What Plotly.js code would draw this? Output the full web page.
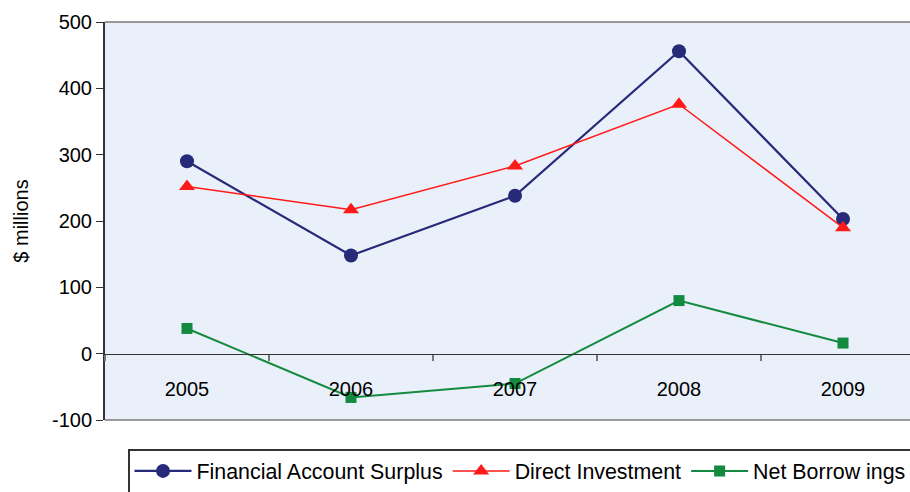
<!DOCTYPE html>
<html>
<head>
<meta charset="utf-8">
<script src="https://cdn.plot.ly/plotly-3.0.1.min.js"></script>
<style>
html,body{margin:0;padding:0;overflow:hidden;background:#fff;width:910px;height:492px;}
#chart{width:930px;height:492px;}
</style>
</head>
<body>
<div id="chart"></div>
<script>
const years = ['2005','2006','2007','2008','2009'];
const financialAccountSurplus = [290, 148, 238, 456, 203];
const directInvestment = [252, 217, 283, 376, 190];
const netBorrowings = [38, -66, -45, 80, 16];
const yTicks = [-100, 0, 100, 200, 300, 400, 500];
const yTickLabels = ['-100', '0', '100', '200', '300', '400', '500'];

const W = 930, H = 492;
const font = {family: 'Liberation Sans, Arial, sans-serif', size: 20, color: '#000'};
const legendFont = {family: 'Liberation Sans, Arial, sans-serif', size: 21.4, color: '#000'};

const traces = [
  {x: years, y: financialAccountSurplus, name: 'Financial Account Surplus', type: 'scatter', mode: 'lines+markers',
   line: {color: '#262A78', width: 2.2}, marker: {symbol: 'circle', size: 14, color: '#262A78'}},
  {x: years, y: directInvestment, name: 'Direct Investment', type: 'scatter', mode: 'lines+markers',
   line: {color: '#FF1A1A', width: 1.5}, marker: {symbol: 'triangle-up', size: 14, color: '#FF1A1A'}},
  {x: years, y: netBorrowings, name: 'Net Borrow ings', type: 'scatter', mode: 'lines+markers',
   line: {color: '#138A3F', width: 2}, marker: {symbol: 'square', size: 11, color: '#138A3F'}}
];

const layout = {
  width: W, height: H,
  margin: {l: 105, r: 5, t: 22, b: 72},
  paper_bgcolor: '#fff',
  plot_bgcolor: '#EAF0F9',
  font: font,
  showlegend: true,
  legend: {orientation: 'h', xref: 'container', yref: 'container', x: 128 / W, y: 1 - 449 / H,
           xanchor: 'left', yanchor: 'top', bordercolor: '#333', borderwidth: 1.5, bgcolor: '#fff',
           font: legendFont, tracegroupgap: 0, itemwidth: 57},
  xaxis: {type: 'category', range: [-0.5, 4.5], anchor: 'free', position: 100 / 600,
          showline: true, linecolor: '#333', linewidth: 1.2, ticks: 'outside', tickson: 'boundaries',
          ticklen: 6, tickcolor: '#777', tickwidth: 1.5, showgrid: false, zeroline: false,
          ticklabelstandoff: 17, tickfont: font, fixedrange: true},
  yaxis: {range: [-100, 500], tickmode: 'array', tickvals: yTicks, ticktext: yTickLabels,
          ticks: 'outside', ticklen: 7, tickcolor: '#333',
          showline: true, linecolor: '#333', linewidth: 2, showgrid: false, zeroline: false,
          tickfont: font, title: {text: '$ millions', font: font, standoff: 18}},
  shapes: [
    {type: 'line', xref: 'paper', yref: 'paper', x0: 0, x1: 1, y0: 1, y1: 1, line: {color: '#999', width: 2}},
    {type: 'line', xref: 'paper', yref: 'paper', x0: 0, x1: 1, y0: 0, y1: 0, line: {color: '#999', width: 2}}
  ]
};

Plotly.newPlot('chart', traces, layout, {displayModeBar: false, staticPlot: true});
</script>
</body>
</html>
